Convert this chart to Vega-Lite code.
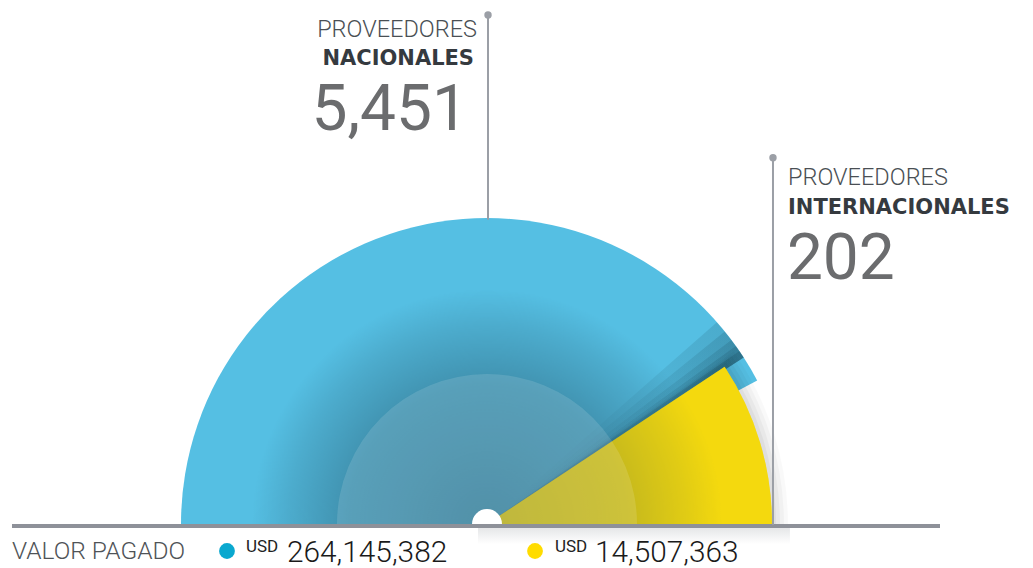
{
  "$schema": "https://vega.github.io/schema/vega-lite/v6.json",
  "width": 1033,
  "height": 568,
  "autosize": {"type": "fit", "contains": "padding"},
  "padding": 0,
  "background": "white",
  "config": {"view": {"stroke": null}, "axis": {"disable": true}, "legend": {"disable": true}},
  "data": {"values": [
    {"origen": "NACIONALES", "cantidad": 5451, "valor": 264145382},
    {"origen": "INTERNACIONALES", "cantidad": 202, "valor": 14507363}
  ]},
  "layer": [
    {
      "transform": [{"filter": "datum.origen === 'NACIONALES'"}],
      "mark": {"type": "arc", "theta": -1.5708, "theta2": 1.0821, "radius": 306},
      "encoding": {
        "x": {"datum": 0, "type": "quantitative", "scale": {"domain": [-159.15, 178.43], "nice": false, "zero": false}},
        "y": {"datum": 0, "type": "quantitative", "scale": {"domain": [-14.05, 171.57], "nice": false, "zero": false}},
        "color": {"field": "origen", "type": "nominal", "scale": {"domain": ["NACIONALES", "INTERNACIONALES"], "range": ["#55bfe3", "#f4d90f"]}}
      }
    },
    {
      "data": {"values": [{}]},
      "mark": {"type": "arc", "theta": 0.85, "theta2": 0.995, "radius": 306, "color": {"gradient": "linear", "x1": 0, "y1": 1, "x2": 1, "y2": 0, "stops": [{"offset": 0, "color": "rgba(18,61,78,0)"}, {"offset": 0.45, "color": "rgba(18,61,78,0.03)"}, {"offset": 1, "color": "rgba(18,61,78,0.16)"}]}},
      "encoding": {
        "x": {"datum": 0, "type": "quantitative", "scale": {"domain": [-159.15, 178.43], "nice": false, "zero": false}},
        "y": {"datum": 0, "type": "quantitative", "scale": {"domain": [-14.05, 171.57], "nice": false, "zero": false}}
      }
    },
    {
      "data": {"values": [{}]},
      "mark": {"type": "arc", "theta": 0.89, "theta2": 0.995, "radius": 306, "color": {"gradient": "linear", "x1": 0, "y1": 1, "x2": 1, "y2": 0, "stops": [{"offset": 0, "color": "rgba(18,61,78,0)"}, {"offset": 0.45, "color": "rgba(18,61,78,0.03)"}, {"offset": 1, "color": "rgba(18,61,78,0.16)"}]}},
      "encoding": {
        "x": {"datum": 0, "type": "quantitative", "scale": {"domain": [-159.15, 178.43], "nice": false, "zero": false}},
        "y": {"datum": 0, "type": "quantitative", "scale": {"domain": [-14.05, 171.57], "nice": false, "zero": false}}
      }
    },
    {
      "data": {"values": [{}]},
      "mark": {"type": "arc", "theta": 0.925, "theta2": 0.995, "radius": 306, "color": {"gradient": "linear", "x1": 0, "y1": 1, "x2": 1, "y2": 0, "stops": [{"offset": 0, "color": "rgba(18,61,78,0)"}, {"offset": 0.45, "color": "rgba(18,61,78,0.04)"}, {"offset": 1, "color": "rgba(18,61,78,0.17)"}]}},
      "encoding": {
        "x": {"datum": 0, "type": "quantitative", "scale": {"domain": [-159.15, 178.43], "nice": false, "zero": false}},
        "y": {"datum": 0, "type": "quantitative", "scale": {"domain": [-14.05, 171.57], "nice": false, "zero": false}}
      }
    },
    {
      "data": {"values": [{}]},
      "mark": {"type": "arc", "theta": 0.95, "theta2": 0.995, "radius": 306, "color": {"gradient": "linear", "x1": 0, "y1": 1, "x2": 1, "y2": 0, "stops": [{"offset": 0, "color": "rgba(18,61,78,0)"}, {"offset": 0.45, "color": "rgba(18,61,78,0.05)"}, {"offset": 1, "color": "rgba(18,61,78,0.18)"}]}},
      "encoding": {
        "x": {"datum": 0, "type": "quantitative", "scale": {"domain": [-159.15, 178.43], "nice": false, "zero": false}},
        "y": {"datum": 0, "type": "quantitative", "scale": {"domain": [-14.05, 171.57], "nice": false, "zero": false}}
      }
    },
    {
      "data": {"values": [{}]},
      "mark": {"type": "arc", "theta": 0.97, "theta2": 0.995, "radius": 306, "color": {"gradient": "linear", "x1": 0, "y1": 1, "x2": 1, "y2": 0, "stops": [{"offset": 0, "color": "rgba(18,61,78,0)"}, {"offset": 0.45, "color": "rgba(18,61,78,0.05)"}, {"offset": 1, "color": "rgba(18,61,78,0.2)"}]}},
      "encoding": {
        "x": {"datum": 0, "type": "quantitative", "scale": {"domain": [-159.15, 178.43], "nice": false, "zero": false}},
        "y": {"datum": 0, "type": "quantitative", "scale": {"domain": [-14.05, 171.57], "nice": false, "zero": false}}
      }
    },
    {
      "data": {"values": [{}]},
      "mark": {"type": "arc", "theta": 0.96, "theta2": 1.5708, "radius": 301, "color": "#000000", "opacity": 0.025},
      "encoding": {
        "x": {"datum": 0, "type": "quantitative", "scale": {"domain": [-159.15, 178.43], "nice": false, "zero": false}},
        "y": {"datum": 0, "type": "quantitative", "scale": {"domain": [-14.05, 171.57], "nice": false, "zero": false}}
      }
    },
    {
      "data": {"values": [{}]},
      "mark": {"type": "arc", "theta": 0.965, "theta2": 1.5708, "radius": 297, "color": "#000000", "opacity": 0.03},
      "encoding": {
        "x": {"datum": 0, "type": "quantitative", "scale": {"domain": [-159.15, 178.43], "nice": false, "zero": false}},
        "y": {"datum": 0, "type": "quantitative", "scale": {"domain": [-14.05, 171.57], "nice": false, "zero": false}}
      }
    },
    {
      "data": {"values": [{}]},
      "mark": {"type": "arc", "theta": 0.97, "theta2": 1.5708, "radius": 293, "color": "#000000", "opacity": 0.035},
      "encoding": {
        "x": {"datum": 0, "type": "quantitative", "scale": {"domain": [-159.15, 178.43], "nice": false, "zero": false}},
        "y": {"datum": 0, "type": "quantitative", "scale": {"domain": [-14.05, 171.57], "nice": false, "zero": false}}
      }
    },
    {
      "data": {"values": [{}]},
      "mark": {"type": "arc", "theta": 0.975, "theta2": 1.5708, "radius": 289, "color": "#000000", "opacity": 0.04},
      "encoding": {
        "x": {"datum": 0, "type": "quantitative", "scale": {"domain": [-159.15, 178.43], "nice": false, "zero": false}},
        "y": {"datum": 0, "type": "quantitative", "scale": {"domain": [-14.05, 171.57], "nice": false, "zero": false}}
      }
    },
    {
      "data": {"values": [{}]},
      "mark": {"type": "rect", "color": {"gradient": "linear", "x1": 0, "y1": 0, "x2": 0, "y2": 1, "stops": [{"offset": 0, "color": "#e4e5e7"}, {"offset": 1, "color": "#ffffff"}]}},
      "encoding": {
        "x": {"datum": -2.94, "type": "quantitative", "scale": {"domain": [-159.15, 178.43], "nice": false, "zero": false}},
        "x2": {"datum": 99.0},
        "y": {"datum": -0.98, "type": "quantitative", "scale": {"domain": [-14.05, 171.57], "nice": false, "zero": false}},
        "y2": {"datum": -6.54}
      }
    },
    {
      "transform": [{"filter": "datum.origen === 'INTERNACIONALES'"}],
      "mark": {"type": "arc", "theta": 0.986, "theta2": 1.5708, "radius": 285},
      "encoding": {
        "x": {"datum": 0, "type": "quantitative", "scale": {"domain": [-159.15, 178.43], "nice": false, "zero": false}},
        "y": {"datum": 0, "type": "quantitative", "scale": {"domain": [-14.05, 171.57], "nice": false, "zero": false}},
        "color": {"field": "origen", "type": "nominal", "scale": {"domain": ["NACIONALES", "INTERNACIONALES"], "range": ["#55bfe3", "#f4d90f"]}}
      }
    },
    {
      "data": {"values": [{}]},
      "mark": {"type": "arc", "theta": -1.5708, "theta2": 1.5708, "radius": 235, "color": {"gradient": "radial", "x1": 0.5, "y1": 0.75, "r1": 0, "x2": 0.5, "y2": 0.75, "r2": 0.5, "stops": [{"offset": 0, "color": "rgba(28,66,84,0.5)"}, {"offset": 0.6, "color": "rgba(28,66,84,0.36)"}, {"offset": 0.85, "color": "rgba(28,66,84,0.15)"}, {"offset": 1, "color": "rgba(28,66,84,0)"}]}},
      "encoding": {
        "x": {"datum": 0, "type": "quantitative", "scale": {"domain": [-159.15, 178.43], "nice": false, "zero": false}},
        "y": {"datum": 0, "type": "quantitative", "scale": {"domain": [-14.05, 171.57], "nice": false, "zero": false}}
      }
    },
    {
      "transform": [{"filter": "datum.origen === 'INTERNACIONALES'"}],
      "mark": {"type": "arc", "theta": 0.986, "theta2": 1.5708, "radius": 285, "opacity": 0.42},
      "encoding": {
        "x": {"datum": 0, "type": "quantitative", "scale": {"domain": [-159.15, 178.43], "nice": false, "zero": false}},
        "y": {"datum": 0, "type": "quantitative", "scale": {"domain": [-14.05, 171.57], "nice": false, "zero": false}},
        "color": {"field": "origen", "type": "nominal", "scale": {"domain": ["NACIONALES", "INTERNACIONALES"], "range": ["#55bfe3", "#f4d90f"]}}
      }
    },
    {
      "data": {"values": [{}]},
      "mark": {"type": "arc", "theta": -1.5708, "theta2": 1.5708, "radius": 150, "color": "#ffffff", "opacity": 0.13},
      "encoding": {
        "x": {"datum": 0, "type": "quantitative", "scale": {"domain": [-159.15, 178.43], "nice": false, "zero": false}},
        "y": {"datum": 0, "type": "quantitative", "scale": {"domain": [-14.05, 171.57], "nice": false, "zero": false}}
      }
    },
    {
      "data": {"values": [{}]},
      "mark": {"type": "arc", "theta": -1.5708, "theta2": 1.5708, "radius": 15, "color": "#ffffff"},
      "encoding": {
        "x": {"datum": 0, "type": "quantitative", "scale": {"domain": [-159.15, 178.43], "nice": false, "zero": false}},
        "y": {"datum": 0, "type": "quantitative", "scale": {"domain": [-14.05, 171.57], "nice": false, "zero": false}}
      }
    },
    {
      "data": {"values": [{}]},
      "mark": {"type": "rule", "color": "#8e9199", "strokeWidth": 4},
      "encoding": {
        "x": {"datum": -155.23, "type": "quantitative", "scale": {"domain": [-159.15, 178.43], "nice": false, "zero": false}},
        "x2": {"datum": 148.04},
        "y": {"datum": -0.65, "type": "quantitative", "scale": {"domain": [-14.05, 171.57], "nice": false, "zero": false}}
      }
    },
    {
      "transform": [{"filter": "datum.origen === 'NACIONALES'"}],
      "mark": {"type": "rule", "color": "#9b9fa6", "strokeWidth": 2},
      "encoding": {
        "x": {"datum": 0.33, "type": "quantitative", "scale": {"domain": [-159.15, 178.43], "nice": false, "zero": false}},
        "y": {"datum": 166.67, "type": "quantitative", "scale": {"domain": [-14.05, 171.57], "nice": false, "zero": false}},
        "y2": {"datum": 99.67}
      }
    },
    {
      "transform": [{"filter": "datum.origen === 'INTERNACIONALES'"}],
      "mark": {"type": "rule", "color": "#9b9fa6", "strokeWidth": 2},
      "encoding": {
        "x": {"datum": 93.46, "type": "quantitative", "scale": {"domain": [-159.15, 178.43], "nice": false, "zero": false}},
        "y": {"datum": 119.93, "type": "quantitative", "scale": {"domain": [-14.05, 171.57], "nice": false, "zero": false}},
        "y2": {"datum": -0.3}
      }
    },
    {
      "transform": [{"filter": "datum.origen === 'NACIONALES'"}],
      "mark": {"type": "point", "filled": true, "color": "#9b9fa6", "size": 55, "opacity": 1},
      "encoding": {
        "x": {"datum": 0.33, "type": "quantitative", "scale": {"domain": [-159.15, 178.43], "nice": false, "zero": false}},
        "y": {"datum": 166.67, "type": "quantitative", "scale": {"domain": [-14.05, 171.57], "nice": false, "zero": false}}
      }
    },
    {
      "transform": [{"filter": "datum.origen === 'INTERNACIONALES'"}],
      "mark": {"type": "point", "filled": true, "color": "#9b9fa6", "size": 55, "opacity": 1},
      "encoding": {
        "x": {"datum": 93.46, "type": "quantitative", "scale": {"domain": [-159.15, 178.43], "nice": false, "zero": false}},
        "y": {"datum": 119.93, "type": "quantitative", "scale": {"domain": [-14.05, 171.57], "nice": false, "zero": false}}
      }
    },
    {
      "transform": [{"filter": "datum.origen === 'NACIONALES'"}],
      "mark": {"type": "text", "text": "PROVEEDORES", "align": "right", "baseline": "alphabetic", "font": "Roboto", "fontWeight": 300, "fontSize": 23.5, "color": "#4a4f54"},
      "encoding": {
        "x": {"datum": -3.27, "type": "quantitative", "scale": {"domain": [-159.15, 178.43], "nice": false, "zero": false}},
        "y": {"datum": 159.48, "type": "quantitative", "scale": {"domain": [-14.05, 171.57], "nice": false, "zero": false}}
      }
    },
    {
      "transform": [{"filter": "datum.origen === 'NACIONALES'"}],
      "mark": {"type": "text", "align": "right", "baseline": "alphabetic", "font": "DejaVu Sans", "fontWeight": "bold", "fontSize": 21, "color": "#353a3f"},
      "encoding": {
        "x": {"datum": -4.25, "type": "quantitative", "scale": {"domain": [-159.15, 178.43], "nice": false, "zero": false}},
        "y": {"datum": 150.16, "type": "quantitative", "scale": {"domain": [-14.05, 171.57], "nice": false, "zero": false}},
        "text": {"field": "origen"}
      }
    },
    {
      "transform": [{"filter": "datum.origen === 'NACIONALES'"}],
      "mark": {"type": "text", "align": "right", "baseline": "alphabetic", "font": "Roboto", "fontWeight": 400, "fontSize": 64, "color": "#6b6c6e"},
      "encoding": {
        "x": {"datum": -6.2, "type": "quantitative", "scale": {"domain": [-159.15, 178.43], "nice": false, "zero": false}},
        "y": {"datum": 129.08, "type": "quantitative", "scale": {"domain": [-14.05, 171.57], "nice": false, "zero": false}},
        "text": {"field": "cantidad", "type": "quantitative", "format": ","}
      }
    },
    {
      "transform": [{"filter": "datum.origen === 'INTERNACIONALES'"}],
      "mark": {"type": "text", "text": "PROVEEDORES", "align": "left", "baseline": "alphabetic", "font": "Roboto", "fontWeight": 300, "fontSize": 23.5, "color": "#4a4f54"},
      "encoding": {
        "x": {"datum": 98.37, "type": "quantitative", "scale": {"domain": [-159.15, 178.43], "nice": false, "zero": false}},
        "y": {"datum": 111.11, "type": "quantitative", "scale": {"domain": [-14.05, 171.57], "nice": false, "zero": false}}
      }
    },
    {
      "transform": [{"filter": "datum.origen === 'INTERNACIONALES'"}],
      "mark": {"type": "text", "align": "left", "baseline": "alphabetic", "font": "DejaVu Sans", "fontWeight": "bold", "fontSize": 21, "color": "#353a3f"},
      "encoding": {
        "x": {"datum": 98.37, "type": "quantitative", "scale": {"domain": [-159.15, 178.43], "nice": false, "zero": false}},
        "y": {"datum": 101.63, "type": "quantitative", "scale": {"domain": [-14.05, 171.57], "nice": false, "zero": false}},
        "text": {"field": "origen"}
      }
    },
    {
      "transform": [{"filter": "datum.origen === 'INTERNACIONALES'"}],
      "mark": {"type": "text", "align": "left", "baseline": "alphabetic", "font": "Roboto", "fontWeight": 400, "fontSize": 64, "color": "#6b6c6e"},
      "encoding": {
        "x": {"datum": 98.0, "type": "quantitative", "scale": {"domain": [-159.15, 178.43], "nice": false, "zero": false}},
        "y": {"datum": 80.07, "type": "quantitative", "scale": {"domain": [-14.05, 171.57], "nice": false, "zero": false}},
        "text": {"field": "cantidad", "type": "quantitative", "format": ","}
      }
    },
    {
      "transform": [{"filter": "datum.origen === 'NACIONALES'"}],
      "mark": {"type": "text", "text": "VALOR PAGADO", "align": "left", "baseline": "alphabetic", "font": "Roboto", "fontWeight": 300, "fontSize": 24.5, "color": "#4f5357"},
      "encoding": {
        "x": {"datum": -155.23, "type": "quantitative", "scale": {"domain": [-159.15, 178.43], "nice": false, "zero": false}},
        "y": {"datum": -11.44, "type": "quantitative", "scale": {"domain": [-14.05, 171.57], "nice": false, "zero": false}}
      }
    },
    {
      "transform": [{"filter": "datum.origen === 'NACIONALES'"}],
      "mark": {"type": "point", "filled": true, "shape": "circle", "size": 250, "color": "#0aa8cf", "opacity": 1},
      "encoding": {
        "x": {"datum": -84.97, "type": "quantitative", "scale": {"domain": [-159.15, 178.43], "nice": false, "zero": false}},
        "y": {"datum": -8.82, "type": "quantitative", "scale": {"domain": [-14.05, 171.57], "nice": false, "zero": false}}
      }
    },
    {
      "transform": [{"filter": "datum.origen === 'INTERNACIONALES'"}],
      "mark": {"type": "point", "filled": true, "shape": "circle", "size": 250, "color": "#ffdc00", "opacity": 1},
      "encoding": {
        "x": {"datum": 15.69, "type": "quantitative", "scale": {"domain": [-159.15, 178.43], "nice": false, "zero": false}},
        "y": {"datum": -8.82, "type": "quantitative", "scale": {"domain": [-14.05, 171.57], "nice": false, "zero": false}}
      }
    },
    {
      "transform": [{"filter": "datum.origen === 'NACIONALES'"}],
      "mark": {"type": "text", "text": "USD", "align": "left", "baseline": "alphabetic", "font": "Roboto", "fontWeight": 400, "fontSize": 17, "color": "#222222"},
      "encoding": {
        "x": {"datum": -78.76, "type": "quantitative", "scale": {"domain": [-159.15, 178.43], "nice": false, "zero": false}},
        "y": {"datum": -8.99, "type": "quantitative", "scale": {"domain": [-14.05, 171.57], "nice": false, "zero": false}}
      }
    },
    {
      "transform": [{"filter": "datum.origen === 'INTERNACIONALES'"}],
      "mark": {"type": "text", "text": "USD", "align": "left", "baseline": "alphabetic", "font": "Roboto", "fontWeight": 400, "fontSize": 17, "color": "#222222"},
      "encoding": {
        "x": {"datum": 22.22, "type": "quantitative", "scale": {"domain": [-159.15, 178.43], "nice": false, "zero": false}},
        "y": {"datum": -8.99, "type": "quantitative", "scale": {"domain": [-14.05, 171.57], "nice": false, "zero": false}}
      }
    },
    {
      "transform": [{"filter": "datum.origen === 'NACIONALES'"}],
      "mark": {"type": "text", "align": "left", "baseline": "alphabetic", "font": "Roboto", "fontWeight": 300, "fontSize": 29.8, "color": "#1a1a1a"},
      "encoding": {
        "x": {"datum": -65.36, "type": "quantitative", "scale": {"domain": [-159.15, 178.43], "nice": false, "zero": false}},
        "y": {"datum": -12.42, "type": "quantitative", "scale": {"domain": [-14.05, 171.57], "nice": false, "zero": false}},
        "text": {"field": "valor", "type": "quantitative", "format": ","}
      }
    },
    {
      "transform": [{"filter": "datum.origen === 'INTERNACIONALES'"}],
      "mark": {"type": "text", "align": "left", "baseline": "alphabetic", "font": "Roboto", "fontWeight": 300, "fontSize": 29.8, "color": "#1a1a1a"},
      "encoding": {
        "x": {"datum": 35.29, "type": "quantitative", "scale": {"domain": [-159.15, 178.43], "nice": false, "zero": false}},
        "y": {"datum": -12.42, "type": "quantitative", "scale": {"domain": [-14.05, 171.57], "nice": false, "zero": false}},
        "text": {"field": "valor", "type": "quantitative", "format": ","}
      }
    }
  ]
}
